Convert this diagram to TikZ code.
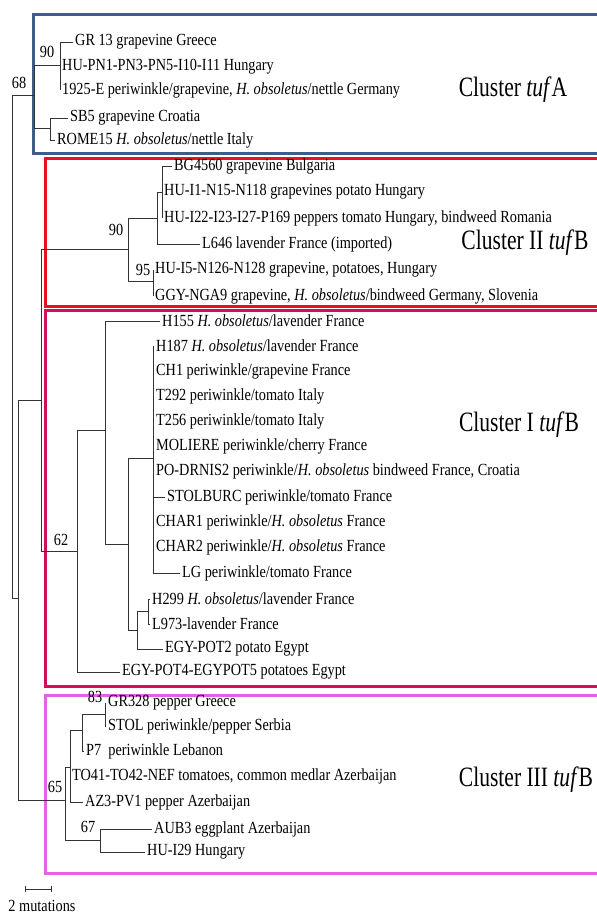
\documentclass[tikz,border=0pt]{standalone}
\usepackage{fontspec}
\setmainfont{Liberation Serif}[FakeStretch=0.84]
\newfontfamily\clusterfont{Liberation Serif}[FakeStretch=0.77]
\definecolor{tufAblue}{RGB}{62,92,140}
\definecolor{clIIred}{RGB}{232,18,30}
\definecolor{clIcrimson}{RGB}{208,16,88}
\definecolor{clIIImagenta}{RGB}{228,98,228}

\begin{document}
\begin{tikzpicture}[x=1pt,y=1pt,yscale=-1,
  branch/.style={draw=black!80,line width=0.7pt},
  leaf/.style={anchor=west,inner xsep=2pt,inner ysep=1pt,font=\fontsize{17}{19}\selectfont},
  boot/.style={inner sep=0pt,font=\fontsize{17}{19}\selectfont},
  clusterbox/.style={line width=3pt},
  clusterlabel/.style={inner sep=0pt,font=\clusterfont\fontsize{28}{30}\selectfont}]
\useasboundingbox (0,0) rectangle (597,916);

\draw[clusterbox,tufAblue] (600,14) -| (33,153) -- (600,153);
\draw[clusterbox,clIIred] (600,158) -| (45,306) -- (600,306);
\draw[clusterbox,clIcrimson] (600,310) -| (45,686) -- (600,686);
\draw[clusterbox,clIIImagenta] (600,695) -| (45,873) -- (600,873);

\node[clusterlabel] (labA) at (513,90) {Cluster \textit{tuf}A};
\node[clusterlabel] (labII) at (525,243) {Cluster II \textit{tuf}B};
\node[clusterlabel] (labI) at (519,425) {Cluster I \textit{tuf}B};
\node[clusterlabel] (labIII) at (526,780) {Cluster III \textit{tuf}B};

\coordinate (nR) at (12,95);
\coordinate (nA) at (34,95);
\coordinate (nA90) at (60,65);
\coordinate (nASB) at (50,128);
\coordinate (nB) at (18,598);
\coordinate (nBI) at (41,400);
\coordinate (nII) at (128,249);
\coordinate (nIIa) at (157,218);
\coordinate (nIIaa) at (162,192);
\coordinate (nIIb) at (153,281);
\coordinate (nI) at (77,551);
\coordinate (nIa) at (105,430);
\coordinate (nIb) at (128,544);
\coordinate (nIc) at (153,458);
\coordinate (nId) at (137,630);
\coordinate (nIe) at (148,611);
\coordinate (nIII) at (65,800);
\coordinate (nIIIa) at (70,767);
\coordinate (nIIIc) at (82,730);
\coordinate (nIIId) at (105,714);
\coordinate (nIIIb) at (100,840);

\node[leaf] (GRxiii) at (73,42) {GR 13 grapevine Greece};
\node[leaf] (HUPN) at (60,67) {HU-PN1-PN3-PN5-I10-I11 Hungary};
\node[leaf] (lE1925) at (60,90) {1925-E periwinkle/grapevine, \textit{H. obsoletus}/nettle Germany};
\node[leaf] (SBv) at (68,118) {SB5 grapevine Croatia};
\node[leaf] (ROME) at (55,140) {ROME15 \textit{H. obsoletus}/nettle Italy};

\node[leaf] (BG) at (172,166) {BG4560 grapevine Bulgaria};
\node[leaf] (HUIi) at (162,192) {HU-I1-N15-N118 grapevines potato Hungary};
\node[leaf] (HUIxxii) at (162,218) {HU-I22-I23-I27-P169 peppers tomato Hungary, bindweed Romania};
\node[leaf] (Lsix) at (200,244) {L646 lavender France (imported)};
\node[leaf] (HUIv) at (153,270) {HU-I5-N126-N128 grapevine, potatoes, Hungary};
\node[leaf] (GGY) at (153,296) {GGY-NGA9 grapevine, \textit{H. obsoletus}/bindweed Germany, Slovenia};

\node[leaf] (Hclv) at (160,321) {H155 \textit{H. obsoletus}/lavender France};
\node[leaf] (Hclxxxvii) at (154,346) {H187 \textit{H. obsoletus}/lavender France};
\node[leaf] (CHi) at (154,371) {CH1 periwinkle/grapevine France};
\node[leaf] (Tccxcii) at (154,396) {T292 periwinkle/tomato Italy};
\node[leaf] (Tcclvi) at (154,421) {T256 periwinkle/tomato Italy};
\node[leaf] (MOL) at (154,446) {MOLIERE periwinkle/cherry France};
\node[leaf] (PODR) at (154,471) {PO-DRNIS2 periwinkle/\textit{H. obsoletus} bindweed France, Croatia};
\node[leaf] (STOLB) at (165,497) {STOLBURC periwinkle/tomato France};
\node[leaf] (CHARi) at (154,522) {CHAR1 periwinkle/\textit{H. obsoletus} France};
\node[leaf] (CHARii) at (154,547) {CHAR2 periwinkle/\textit{H. obsoletus} France};
\node[leaf] (LG) at (180,573) {LG periwinkle/tomato France};
\node[leaf] (Hccxcix) at (150,599) {H299 \textit{H. obsoletus}/lavender France};
\node[leaf] (Lcmlxxiii) at (150,624) {L973-lavender France};
\node[leaf] (EGYii) at (163,649) {EGY-POT2 potato Egypt};
\node[leaf] (EGYiv) at (120,672) {EGY-POT4-EGYPOT5 potatoes Egypt};

\node[leaf] (GRcccxxviii) at (106,703) {GR328 pepper Greece};
\node[leaf] (STOL) at (106,726) {STOL periwinkle/pepper Serbia};
\node[leaf] (Pvii) at (84,751) {P7\ \ periwinkle Lebanon};
\node[leaf] (TOxli) at (70,776) {TO41-TO42-NEF tomatoes, common medlar Azerbaijan};
\node[leaf] (AZiii) at (83,802) {AZ3-PV1 pepper Azerbaijan};
\node[leaf] (AUBiii) at (152,829) {AUB3 eggplant Azerbaijan};
\node[leaf] (HUIxxix) at (145,852) {HU-I29 Hungary};

\draw[branch] (nR) |- (nA);
\draw[branch] (nR) |- (nB);
\draw[branch] (nA) |- (nA90);
\draw[branch] (nA) |- (nASB);
\draw[branch] (nA90) |- (GRxiii.west);
\draw[branch] (nA90) |- (HUPN.west);
\draw[branch] (nA90) |- (lE1925.west);
\draw[branch] (nASB) |- (SBv.west);
\draw[branch] (nASB) |- (ROME.west);

\draw[branch] (nB) |- (nBI);
\draw[branch] (nB) |- (nIII);
\draw[branch] (nBI) |- (nII);
\draw[branch] (nBI) |- (nI);
\draw[branch] (nII) |- (nIIa);
\draw[branch] (nII) |- (nIIb);
\draw[branch] (nIIa) |- (nIIaa);
\draw[branch] (nIIa) |- (Lsix.west);
\draw[branch] (nIIaa) |- (BG.west);
\draw[branch] (nIIaa) |- (HUIi.west);
\draw[branch] (nIIaa) |- (HUIxxii.west);
\draw[branch] (nIIb) |- (HUIv.west);
\draw[branch] (nIIb) |- (GGY.west);

\draw[branch] (nI) |- (nIa);
\draw[branch] (nI) |- (EGYiv.west);
\draw[branch] (nIa) |- (Hclv.west);
\draw[branch] (nIa) |- (nIb);
\draw[branch] (nIb) |- (nIc);
\draw[branch] (nIb) |- (nId);
\draw[branch] (nIc) |- (Hclxxxvii.west);
\draw[branch] (nIc) |- (CHi.west);
\draw[branch] (nIc) |- (Tccxcii.west);
\draw[branch] (nIc) |- (Tcclvi.west);
\draw[branch] (nIc) |- (MOL.west);
\draw[branch] (nIc) |- (PODR.west);
\draw[branch] (nIc) |- (STOLB.west);
\draw[branch] (nIc) |- (CHARi.west);
\draw[branch] (nIc) |- (CHARii.west);
\draw[branch] (nIc) |- (LG.west);
\draw[branch] (nId) |- (nIe);
\draw[branch] (nId) |- (EGYii.west);
\draw[branch] (nIe) |- (Hccxcix.west);
\draw[branch] (nIe) |- (Lcmlxxiii.west);

\draw[branch] (nIII) |- (nIIIa);
\draw[branch] (nIII) |- (nIIIb);
\draw[branch] (nIIIa) |- (nIIIc);
\draw[branch] (nIIIa) |- (TOxli.west);
\draw[branch] (nIIIa) |- (AZiii.west);
\draw[branch] (nIIIc) |- (nIIId);
\draw[branch] (nIIIc) |- (Pvii.west);
\draw[branch] (nIIId) |- (GRcccxxviii.west);
\draw[branch] (nIIId) |- (STOL.west);
\draw[branch] (nIIIb) |- (AUBiii.west);
\draw[branch] (nIIIb) |- (HUIxxix.west);

\node[boot] (bsR) at (19,83) {68};
\node[boot] (bsA) at (47,52) {90};
\node[boot] (bsII) at (116,230) {90};
\node[boot] (bsIIb) at (143,270) {95};
\node[boot] (bsI) at (61,540) {62};
\node[boot] (bsIIId) at (95,697) {83};
\node[boot] (bsIII) at (55,787) {65};
\node[boot] (bsIIIb) at (88,827) {67};

\coordinate (sbL) at (25,889);
\coordinate (sbR) at (52,889);
\draw[branch,|-|] (sbL) -- (sbR);
\node[boot] (sbText) at (42,906) {2 mutations};
\end{tikzpicture}
\end{document}
